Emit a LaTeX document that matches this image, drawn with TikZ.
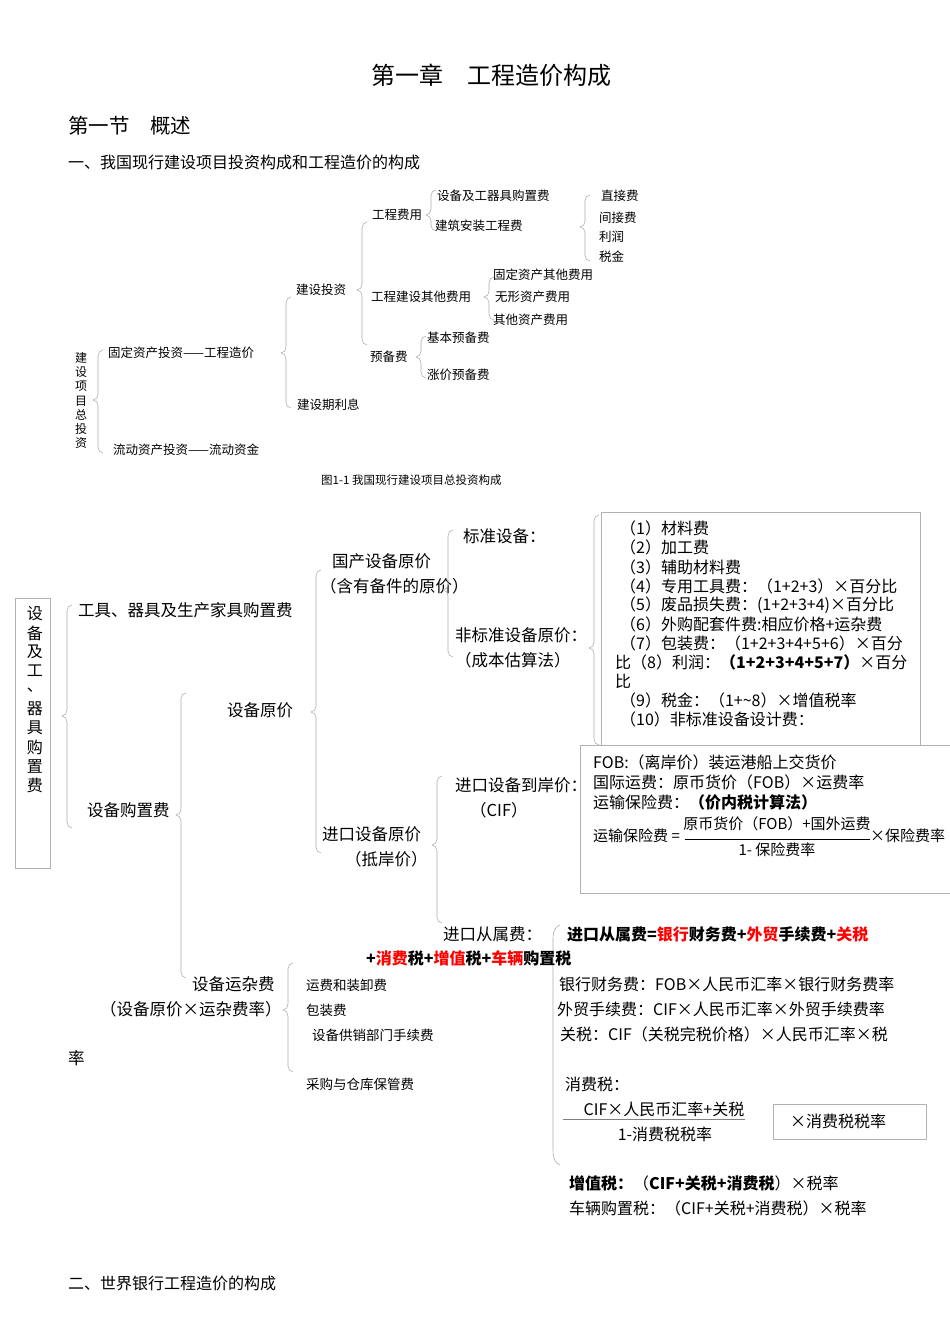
\documentclass[tikz,border=0pt]{standalone}
\usepackage{fontspec}
\setmainfont{Noto Sans CJK SC}
\newcommand{\fs}[1]{\fontsize{#1}{#1}\selectfont}
\newcommand{\lbr}[4]{\draw[br] (#1+5,#2) to[out=180,in=90] (#1,#2+6) -- (#1,#3-6) to[out=-90,in=0] (#1-5,#3) to[out=0,in=90] (#1,#3+6) -- (#1,#4-6) to[out=-90,in=180] (#1+5,#4);}
\begin{document}
\begin{tikzpicture}[x=1pt,y=-1pt,
  t/.style={anchor=west,inner sep=0pt},
  s1/.style={t,font=\fs{12.5}},
  s2/.style={t,font=\fs{16.5}},
  s3/.style={t,font=\fs{16}},
  br/.style={draw=gray!65,line width=0.6pt},
  bx/.style={draw=gray!60,line width=0.7pt},
  rd/.style={text=red}]
\useasboundingbox (0,0) rectangle (950,1344);
% headings
\node[inner sep=0,font=\fs{24}] (title) at (491,75) {第一章　工程造价构成};
\node[t,font=\fs{20.5}] (sec) at (68,126) {第一节　概述};
\node[t,font=\fs{16}] (h1) at (68,162) {一、我国现行建设项目投资构成和工程造价的构成};
% figure 1
\foreach \c [count=\i] in {建,设,项,目,总,投,资}
  \node[inner sep=0,font=\fs{12}] (v\i) at (81,344+\i*14.2) {\c};
\lbr{98}{350}{400}{453}
\node[s1] (a1) at (108,353) {固定资产投资——工程造价};
\node[s1] (a2) at (113,450) {流动资产投资——流动资金};
\lbr{286}{297}{353}{408}
\node[s1] (b1) at (296,290) {建设投资};
\node[s1] (b2) at (297,405) {建设期利息};
\lbr{362}{222}{290}{345}
\node[s1] (c1) at (372,215) {工程费用};
\node[s1] (c2) at (371,297) {工程建设其他费用};
\node[s1] (c3) at (370,357) {预备费};
\lbr{431}{190}{215}{231}
\node[s1] (d1) at (437,196) {设备及工器具购置费};
\node[s1] (d2) at (435,226) {建筑安装工程费};
\lbr{585}{195}{227}{261}
\node[s1] (e1) at (601,196) {直接费};
\node[s1] (e2) at (599,218) {间接费};
\node[s1] (e3) at (599,237) {利润};
\node[s1] (e4) at (599,257) {税金};
\lbr{489}{277}{297}{320}
\node[s1] (f1) at (493,275) {固定资产其他费用};
\node[s1] (f2) at (495,297) {无形资产费用};
\node[s1] (f3) at (493,320) {其他资产费用};
\lbr{421}{336}{357}{378}
\node[s1] (g1) at (427,338) {基本预备费};
\node[s1] (g2) at (427,375) {涨价预备费};
\node[t,font=\fs{11.5}] (cap) at (321,480) {图1-1 我国现行建设项目总投资构成};
% figure 2
\draw[bx] (15,598) rectangle (50,868);
\foreach \c [count=\i] in {设,备,及,工,、,器,具,购,置,费}
  \node[inner sep=0,font=\fs{16}] (w\i) at (35,595+\i*19) {\c};
\lbr{67}{605}{716}{828}
\node[s2] (p1) at (78,610) {工具、器具及生产家具购置费};
\node[s2] (p2) at (87,810) {设备购置费};
\lbr{181}{693}{815}{978}
\node[s2] (q1) at (227,710) {设备原价};
\node[s2] (q2) at (192,984) {设备运杂费};
\node[s2] (q3) at (100,1009) {（设备原价×运杂费率）};
\node[s2] (q4) at (68,1058) {率};
\lbr{316}{570}{712}{853}
\node[s2] (r1) at (332,561) {国产设备原价};
\node[s2] (r2) at (320,586) {（含有备件的原价）};
\node[s2] (r3) at (322,834) {进口设备原价};
\node[s2] (r4) at (345,859) {（抵岸价）};
\lbr{448}{530}{590}{657}
\node[s2] (s1n) at (463,536) {标准设备：};
\node[s2] (s2n) at (455,635) {非标准设备原价：};
\node[s2] (s3n) at (455,660) {（成本估算法）};
\lbr{437}{776}{845}{923}
\node[s2] (s4n) at (455,785) {进口设备到岸价：};
\node[s2] (s5n) at (470,810) {（CIF）};
\node[s2] (s6n) at (443,934) {进口从属费：};
% box 1
\draw[bx] (601,745) -- (601,512) -- (920,512) -- (920,745);
\lbr{594}{515}{648}{745}
\node[s3] (k1) at (620,528) {（1）材料费};
\node[s3] (k2) at (620,547) {（2）加工费};
\node[s3] (k3) at (620,567) {（3）辅助材料费};
\node[s3] (k4) at (620,586) {（4）专用工具费：（1+2+3）×百分比};
\node[s3] (k5) at (620,605) {（5）废品损失费：(1+2+3+4)×百分比};
\node[s3] (k6) at (620,624) {（6）外购配套件费:相应价格+运杂费};
\node[s3] (k7) at (620,643) {（7）包装费：（1+2+3+4+5+6）×百分};
\node[s3] (k8) at (615,662) {比（8）利润：\textbf{（1+2+3+4+5+7）}×百分};
\node[s3] (k9) at (615,681) {比};
\node[s3] (k10) at (620,700) {（9）税金：（1+\textasciitilde8）×增值税率};
\node[s3] (k11) at (620,719) {（10）非标准设备设计费：};
% box 2
\draw[bx,fill=white] (580,745) rectangle (952,893);
\node[s3] (m1) at (593,762) {FOB:（离岸价）装运港船上交货价};
\node[s3] (m2) at (593,782) {国际运费：原币货价（FOB）×运费率};
\node[s3] (m3) at (593,802) {运输保险费：\textbf{（价内税计算法）}};
\node[t,font=\fs{15}] (m4) at (593,836) {运输保险费 =};
\node[inner sep=0,font=\fs{15}] (m5) at (777,824) {原币货价（FOB）+国外运费};
\draw (685,839) -- (870,839);
\node[inner sep=0,font=\fs{15}] (m6) at (777,850) {1- 保险费率};
\node[t,font=\fs{15}] (m7) at (870,836) {×保险费率};
% import fees
\draw[br] (560,925) to[out=200,in=90] (553,945) -- (553,1150) to[out=-90,in=160] (560,1165);
\node[t,font=\fs{16}\bfseries] (x1) at (567,934) {进口从属费=\textcolor{red}{银行}财务费+\textcolor{red}{外贸}手续费+\textcolor{red}{关税}};
\node[t,font=\fs{16}\bfseries] (x2) at (366,958) {+\textcolor{red}{消费}税+\textcolor{red}{增值}税+\textcolor{red}{车辆}购置税};
\lbr{288}{963}{1010}{1072}
\node[t,font=\fs{13.5}] (y1) at (306,985) {运费和装卸费};
\node[t,font=\fs{13.5}] (y2) at (306,1010) {包装费};
\node[t,font=\fs{13.5}] (y3) at (312,1035) {设备供销部门手续费};
\node[t,font=\fs{13.5}] (y4) at (306,1084) {采购与仓库保管费};
\node[s3] (z1) at (559,984) {银行财务费：FOB×人民币汇率×银行财务费率};
\node[s3] (z2) at (557,1009) {外贸手续费：CIF×人民币汇率×外贸手续费率};
\node[s3] (z3) at (560,1034) {关税：CIF（关税完税价格）×人民币汇率×税};
\node[s3] (z4) at (565,1084) {消费税：};
\node[inner sep=0,font=\fs{16}] (z5) at (664,1109) {CIF×人民币汇率+关税};
\draw[gray] (563,1119) -- (745,1119);
\node[inner sep=0,font=\fs{16}] (z6) at (665,1134) {1-消费税税率};
\draw[bx] (773,1104) rectangle (926,1139);
\node[inner sep=0,font=\fs{16}] (z7) at (838,1121) {×消费税税率};
\node[s3] (z8) at (569,1183) {\textbf{增值税：}（\textbf{CIF+关税+消费税}）×税率};
\node[s3] (z9) at (569,1208) {车辆购置税：（CIF+关税+消费税）×税率};
\node[t,font=\fs{16}] (h2) at (68,1283) {二、世界银行工程造价的构成};
\end{tikzpicture}
\end{document}
